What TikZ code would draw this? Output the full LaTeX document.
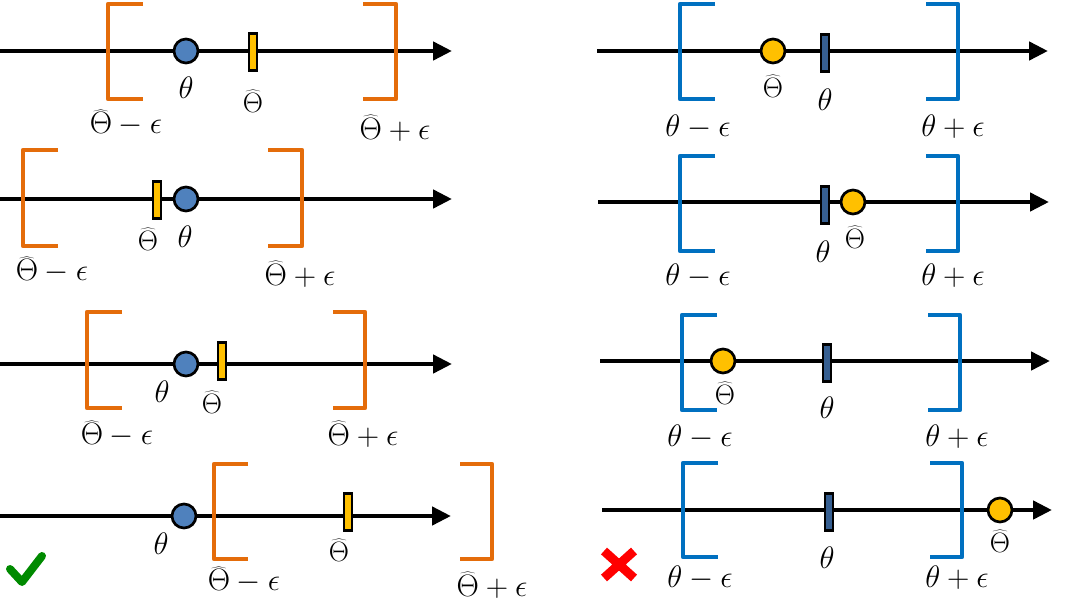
\RequirePackage{fix-cm}
\documentclass[tikz,border=0pt]{standalone}
\usetikzlibrary{arrows.meta}
\definecolor{orng}{HTML}{E46C0A}
\definecolor{brblue}{HTML}{0070C0}
\definecolor{dotblue}{HTML}{4F81BD}
\definecolor{gold}{HTML}{FFC000}
\definecolor{darkbar}{HTML}{365F91}
\definecolor{okgreen}{HTML}{008A00}
\definecolor{badred}{HTML}{FF0000}
\newcommand\Brk[5]{\draw[#5] (#4,#2) -- (#1,#2) -- (#1,#3) -- (#4,#3);}
\tikzset{
  axis/.style={line width=4.5pt, -{Triangle[length=19pt,width=18pt]}},
  obr/.style={draw=orng, line width=4.5pt, line join=round},
  bbr/.style={draw=brblue, line width=4.5pt, line join=round},
  dotnode/.style={circle, draw=black, line width=2.7pt, minimum size=24pt, inner sep=0pt},
  barnode/.style={rectangle, draw=black, line width=2.5pt, minimum width=8pt, minimum height=37pt, inner sep=0pt},
  lab/.style={font=\fontsize{31}{36}\selectfont, inner sep=0pt},
  hlab/.style={font=\fontsize{28}{32}\selectfont, inner sep=0pt},
}
\begin{document}
\begin{tikzpicture}[x=1pt,y=-1pt]
\useasboundingbox (0,0) rectangle (1071,605);
% ---------- left column ----------
% row 1
\coordinate (la1s) at (0,51); \coordinate (la1e) at (452,51);
\draw[axis] (la1s) -- (la1e);
\Brk{108}{4}{99}{143}{obr}
\Brk{396}{4}{99}{363}{obr}
\node[dotnode, fill=dotblue] (lc1) at (186,51) {};
\node[barnode, fill=gold] (lr1) at (253,52) {};
\node[lab] (lt1) at (186,88) {$\theta$};
\node[hlab] (lh1) at (253,101) {$\widehat{\Theta}$};
\node[lab] (lm1) at (126,123) {$\widehat{\Theta}-\epsilon$};
\node[lab] (lp1) at (395,128) {$\widehat{\Theta}+\epsilon$};
% row 2
\coordinate (la2s) at (0,199); \coordinate (la2e) at (452,199);
\draw[axis] (la2s) -- (la2e);
\Brk{23}{150}{246}{58}{obr}
\Brk{302}{150}{246}{268}{obr}
\node[barnode, fill=gold] (lr2) at (157,200) {};
\node[dotnode, fill=dotblue] (lc2) at (186,199) {};
\node[hlab] (lh2) at (148,239) {$\widehat{\Theta}$};
\node[lab] (lt2) at (185,237) {$\theta$};
\node[lab] (lm2) at (52,270) {$\widehat{\Theta}-\epsilon$};
\node[lab] (lp2) at (300,274) {$\widehat{\Theta}+\epsilon$};
% row 3
\coordinate (la3s) at (0,364); \coordinate (la3e) at (452,364);
\draw[axis] (la3s) -- (la3e);
\Brk{87}{312}{408}{122}{obr}
\Brk{365}{312}{408}{333}{obr}
\node[dotnode, fill=dotblue] (lc3) at (186,364) {};
\node[barnode, fill=gold] (lr3) at (222,361) {};
\node[lab] (lt3) at (162,392) {$\theta$};
\node[hlab] (lh3) at (212,402) {$\widehat{\Theta}$};
\node[lab] (lm3) at (117,434) {$\widehat{\Theta}-\epsilon$};
\node[lab] (lp3) at (363,434) {$\widehat{\Theta}+\epsilon$};
% row 4
\coordinate (la4s) at (0,516); \coordinate (la4e) at (451,516);
\draw[axis] (la4s) -- (la4e);
\Brk{214}{464}{559}{248}{obr}
\Brk{492}{464}{559}{460}{obr}
\node[dotnode, fill=dotblue] (lc4) at (184,516) {};
\node[barnode, fill=gold] (lr4) at (348,512) {};
\node[lab] (lt4) at (161,544) {$\theta$};
\node[hlab] (lh4) at (339,550) {$\widehat{\Theta}$};
\node[lab] (lm4) at (244,580) {$\widehat{\Theta}-\epsilon$};
\node[lab] (lp4) at (492,585) {$\widehat{\Theta}+\epsilon$};
% check mark
\coordinate (ck1) at (10,569); \coordinate (ck2) at (22,582); \coordinate (ck3) at (42,556);
\draw[okgreen, line width=8pt, line cap=round, line join=round] (ck1) -- (ck2) -- (ck3);
% ---------- right column ----------
% row 1
\coordinate (ra1s) at (597,51); \coordinate (ra1e) at (1048,51);
\draw[axis] (ra1s) -- (ra1e);
\Brk{680}{4}{99}{715}{bbr}
\Brk{958}{4}{99}{926}{bbr}
\node[dotnode, fill=gold] (rc1) at (773,51) {};
\node[barnode, fill=darkbar] (rr1) at (825,53) {};
\node[hlab] (rh1) at (773,86) {$\widehat{\Theta}$};
\node[lab] (rt1) at (825,100) {$\theta$};
\node[lab] (rm1) at (698,127) {$\theta-\epsilon$};
\node[lab] (rp1) at (953,127) {$\theta+\epsilon$};
% row 2
\coordinate (ra2s) at (598,202); \coordinate (ra2e) at (1049,202);
\draw[axis] (ra2s) -- (ra2e);
\Brk{680}{156}{251}{715}{bbr}
\Brk{958}{156}{251}{926}{bbr}
\node[barnode, fill=darkbar] (rr2) at (825,205) {};
\node[dotnode, fill=gold] (rc2) at (853,202) {};
\node[lab] (rt2) at (823,252) {$\theta$};
\node[hlab] (rh2) at (855,237) {$\widehat{\Theta}$};
\node[lab] (rm2) at (698,276) {$\theta-\epsilon$};
\node[lab] (rp2) at (953,276) {$\theta+\epsilon$};
% row 3
\coordinate (ra3s) at (600,361); \coordinate (ra3e) at (1050,361);
\draw[axis] (ra3s) -- (ra3e);
\Brk{682}{315}{410}{717}{bbr}
\Brk{960}{315}{410}{928}{bbr}
\node[dotnode, fill=gold] (rc3) at (723,361) {};
\node[barnode, fill=darkbar] (rr3) at (827,363) {};
\node[hlab] (rh3) at (725,393) {$\widehat{\Theta}$};
\node[lab] (rt3) at (827,408) {$\theta$};
\node[lab] (rm3) at (700,437) {$\theta-\epsilon$};
\node[lab] (rp3) at (957,437) {$\theta+\epsilon$};
% row 4
\coordinate (ra4s) at (602,510); \coordinate (ra4e) at (1052,510);
\draw[axis] (ra4s) -- (ra4e);
\Brk{683}{463}{557}{718}{bbr}
\Brk{962}{463}{557}{930}{bbr}
\node[barnode, fill=darkbar] (rr4) at (829,512) {};
\node[dotnode, fill=gold] (rc4) at (1000,510) {};
\node[hlab] (rh4) at (1000,541) {$\widehat{\Theta}$};
\node[lab] (rt4) at (827,558) {$\theta$};
\node[lab] (rm4) at (700,578) {$\theta-\epsilon$};
\node[lab] (rp4) at (957,578) {$\theta+\epsilon$};
% cross
\coordinate (x1) at (604,551); \coordinate (x2) at (634,578);
\coordinate (x3) at (634,551); \coordinate (x4) at (604,578);
\draw[badred, line width=9pt] (x1) -- (x2) (x3) -- (x4);
\end{tikzpicture}
\end{document}
